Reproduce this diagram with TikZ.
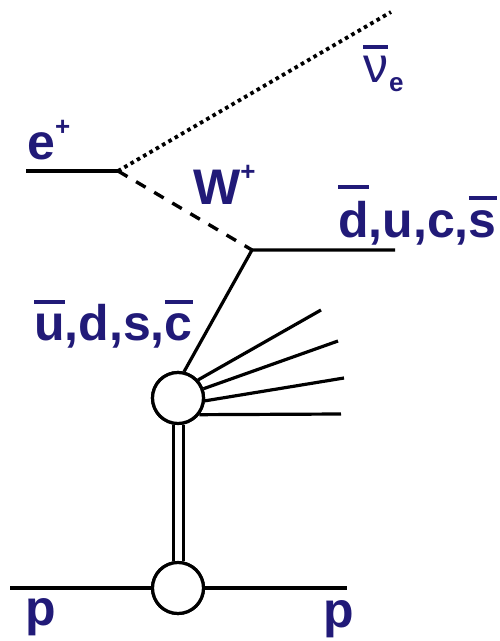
\documentclass[tikz,border=0pt]{standalone}
\usepackage{fontspec}
\setmainfont{Liberation Sans}
\usepackage{xcolor}
\usetikzlibrary{positioning}
\definecolor{labelblue}{HTML}{211A78}
\newcommand{\barred}[2][0.8em]{\leavevmode\setbox0\hbox{#2}\rlap{\rule[#1]{\wd0}{4pt}}\box0}
\newcommand{\upplus}{\raisebox{24pt}{\fontsize{26}{26}\selectfont +}}

\begin{document}
\begin{tikzpicture}[x=1pt, y=-1pt,
  lab/.style={anchor=base west, inner sep=0pt, text=labelblue, font=\fontsize{50}{50}\selectfont\bfseries},
  blob/.style={draw, circle, fill=white, line width=3.2pt, minimum size=51pt, inner sep=0pt},
  line/.style={line width=3.2pt},
  gluon/.style={line width=3pt, double, double distance=7pt},
  boson/.style={line width=3.4pt, dash pattern=on 11pt off 10pt},
  neutrino/.style={line width=3.8pt, dash pattern=on 3.6pt off 3.7pt}]
\useasboundingbox (0,0) rectangle (499,641);
\node[blob] (hard) at (178,398) {};
\node[blob] (proton) at (178,588) {};
\coordinate (vtxe) at (118,171);
\coordinate (vtxq) at (252,250);
\coordinate (ein) at (26,171);
\coordinate (nuend) at (391,12);
\coordinate (qout) at (395,250);
\coordinate (pin) at (10,588);
\coordinate (pout) at (347,588);
\coordinate (rayA) at (321,310);
\coordinate (rayB) at (338,341);
\coordinate (rayC) at (344,378);
\coordinate (rayD) at (341,414);
\draw[line] (ein) -- (vtxe);
\draw[neutrino] (vtxe) -- (nuend);
\draw[boson] (vtxe) -- (vtxq);
\draw[line, line join=miter] (qout) -- (vtxq) -- (hard.77);
\foreach \ang/\ray in {42/rayA, 20/rayB, -6/rayC, -38/rayD}
  \draw[line] (hard.\ang) -- (\ray);
\draw[gluon] (hard) -- (proton);
\draw[line] (pin) -- (proton);
\draw[line] (proton) -- (pout);
\node[blob] at (hard) {};
\node[blob] at (proton) {};
\node[lab] (positron) at (27,159) {e\upplus};
\node[lab] (wboson) at (193,204) {W\upplus};
\node[lab] (antinu) at (363,82) {\barred[0.66em]{\fontsize{50}{50}\selectfont\mdseries ν}\hspace{1pt}\raisebox{-9pt}{\fontsize{26}{26}\selectfont e}};
\node[lab] (outq) at (338,237) {\barred[0.96em]{d},u,c,\barred[0.74em]{s}};
\node[lab] (inq) at (34,340) {\barred[0.72em]{u},d,s,\barred[0.72em]{c}};
\node[lab] (pleft) at (25,625) {p};
\node[lab] (pright) at (323,627) {p};
\end{tikzpicture}
\end{document}
